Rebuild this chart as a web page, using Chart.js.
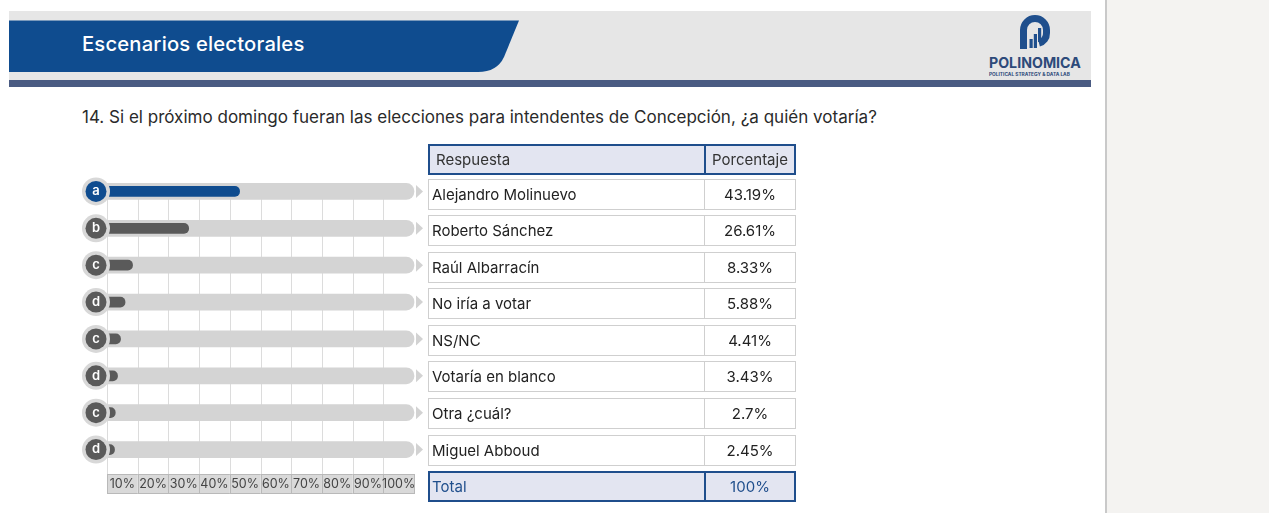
<!DOCTYPE html>
<html>
<head>
<meta charset="utf-8">
<script src="https://cdn.jsdelivr.net/npm/chart.js"></script>
<style>
  body { margin: 0; width: 1269px; height: 513px; background: #fff; position: relative; overflow: hidden; font-family: Inter, "Noto Sans", sans-serif; }
  .band { position: absolute; left: 9px; top: 11px; width: 1082px; height: 69px; background: #e6e6e6; }
  .stripe { position: absolute; left: 9px; top: 80px; width: 1082px; height: 7px; background: #4a5b82; }
  .title { position: absolute; left: 82px; top: 31px; color: #fff; font-size: 20.2px; font-weight: 500; line-height: 26px; letter-spacing: 0.2px; }
  .brand { position: absolute; left: 989px; top: 55px; width: 94px; color: #2d4a7a; font-size: 14.2px; font-weight: 700; line-height: 16px; }
  .brand small { display: block; font-size: 4.8px; line-height: 6px; white-space: nowrap; }
  .side { position: absolute; left: 1105px; top: 0; width: 164px; height: 513px; background: #f4f3f1; border-left: 2px solid #c9c9c9; }
  .question { position: absolute; left: 82px; top: 106px; font-size: 17.05px; color: #2a2a2a; line-height: 22px; }
  #wrap { position: absolute; left: 60px; top: 140px; width: 380px; height: 370px; }
  #table { position: absolute; left: 428px; top: 144px; width: 368px; }
  .row { display: flex; height: 31px; box-sizing: border-box; border: 1px solid #cfcfcf; margin-bottom: 5.6px; font-size: 15px; color: #222; background: #fff; }
  .row div { display: flex; align-items: center; box-sizing: border-box; }
  .row .c1 { width: 276px; padding-left: 3px; border-right: 1px solid #cfcfcf; }
  .row .c2 { flex: 1; justify-content: center; }
  .row.head, .row.total { background: #e3e5f1; border: 2px solid #1f4e8c; }
  .row.head .c1, .row.total .c1 { border-right: 2px solid #1f4e8c; padding-left: 6px; }
  .row.head { color: #333; margin-bottom: 3.5px; }
  .row.total { color: #1f4e8c; margin-top: 1.5px; }
  .row.total .c1 { padding-left: 2px; }
</style>
</head>
<body>
<div class="band"></div>
<svg style="position:absolute;left:0;top:0" width="1100" height="90">
  <path d="M9,20.5 H519 L504,57 Q497,72 478,72 H9 Z" fill="#0f4c8f"/>
  <path d="M1023.5,49 V30 A11.5,11.5 0 0 1 1046.5,30 V33 A10,10 0 0 1 1039,43" fill="none" stroke="#1f4f8d" stroke-width="7"/>
  <rect x="1029.5" y="39" width="3.2" height="9" fill="#1f4f8d"/>
  <rect x="1033.8" y="34" width="3.2" height="14" fill="#1f4f8d"/>
  <rect x="1038" y="28" width="3.2" height="14" fill="#1f4f8d"/>
</svg>
<div class="stripe"></div>
<div class="title">Escenarios electorales</div>
<div class="brand">POLINOMICA<small>POLITICAL STRATEGY &amp; DATA LAB</small></div>
<div class="side"></div>
<div class="question">14. Si el próximo domingo fueran las elecciones para intendentes de Concepción, ¿a quién votaría?</div>
<div id="wrap"><canvas id="chart" width="380" height="370"></canvas></div>
<div id="table"></div>
<script>
const answers = ['Alejandro Molinuevo', 'Roberto Sánchez', 'Raúl Albarracín', 'No iría a votar', 'NS/NC', 'Votaría en blanco', 'Otra ¿cuál?', 'Miguel Abboud'];
const percents = [43.19, 26.61, 8.33, 5.88, 4.41, 3.43, 2.7, 2.45];
const letters = ['a', 'b', 'c', 'd', 'c', 'd', 'c', 'd'];
const tickLabels = ['10%', '20%', '30%', '40%', '50%', '60%', '70%', '80%', '90%', '100%'];
const headers = ['Respuesta', 'Porcentaje'];
const totalLabel = ['Total', '100%'];

const BLUE = '#0f4c8f';
const DARK = '#5a5a5a';
const startOffset = -3.6; // bars start under the letter bubble

// table
let html = '<div class="row head"><div class="c1">' + headers[0] + '</div><div class="c2">' + headers[1] + '</div></div>';
answers.forEach((a, i) => {
  html += '<div class="row"><div class="c1">' + a + '</div><div class="c2">' + percents[i] + '%</div></div>';
});
html += '<div class="row total"><div class="c1">' + totalLabel[0] + '</div><div class="c2">' + totalLabel[1] + '</div></div>';
document.getElementById('table').innerHTML = html;

const decor = {
  id: 'decor',
  beforeDatasetsDraw(chart) {
    const ctx = chart.ctx, xs = chart.scales.x, area = chart.chartArea;
    const first = chart.getDatasetMeta(0).data[0];
    ctx.save();
    ctx.strokeStyle = '#dcdcdc';
    ctx.lineWidth = 1;
    for (let t = 0; t < 100; t += 10) {
      const x = Math.round(xs.getPixelForValue(t)) + 0.5;
      ctx.beginPath();
      ctx.moveTo(x, first.y);
      ctx.lineTo(x, area.bottom + 6);
      ctx.stroke();
    }
    ctx.restore();
  },
  afterDatasetsDraw(chart) {
    const ctx = chart.ctx, xs = chart.scales.x, area = chart.chartArea;
    const x0 = xs.getPixelForValue(0);
    const x100 = xs.getPixelForValue(100);
    ctx.save();
    chart.getDatasetMeta(0).data.forEach((el, i) => {
      const cx = x0 - 11, cy = el.y;
      // arrow
      ctx.fillStyle = '#d2d2d2';
      ctx.beginPath();
      ctx.moveTo(x100 + 2, cy - 6.5);
      ctx.lineTo(x100 + 9, cy);
      ctx.lineTo(x100 + 2, cy + 6.5);
      ctx.closePath();
      ctx.fill();
      // bubble
      ctx.fillStyle = '#d8d8d8';
      ctx.beginPath(); ctx.arc(cx, cy, 14, 0, Math.PI * 2); ctx.fill();
      ctx.fillStyle = i === 0 ? BLUE : DARK;
      ctx.beginPath(); ctx.arc(cx, cy, 10.5, 0, Math.PI * 2); ctx.fill();
      ctx.fillStyle = '#fff';
      ctx.font = '600 13px Inter';
      ctx.textAlign = 'center';
      ctx.textBaseline = 'middle';
      ctx.fillText(letters[i], cx, cy);
    });
    // axis label cells
    const top = area.bottom + 6, h = 20;
    ctx.font = '12.5px Inter';
    tickLabels.forEach((lab, i) => {
      const a = xs.getPixelForValue(i * 10), b = xs.getPixelForValue((i + 1) * 10);
      ctx.fillStyle = '#d9d9d9';
      ctx.fillRect(a, top, b - a, h);
      ctx.strokeStyle = '#b9b9b9';
      ctx.lineWidth = 1;
      ctx.strokeRect(Math.round(a) + 0.5, top + 0.5, Math.round(b) - Math.round(a), h - 1);
      ctx.fillStyle = '#444';
      ctx.fillText(lab, (a + b) / 2, top + h / 2 + 0.5);
    });
    ctx.restore();
  }
};

new Chart(document.getElementById('chart'), {
  type: 'bar',
  data: {
    labels: answers,
    datasets: [
      {
        data: percents.map(v => [startOffset, v]),
        backgroundColor: percents.map((v, i) => i === 0 ? BLUE : DARK),
        barThickness: 10,
        borderRadius: 5,
        borderSkipped: false,
        grouped: false,
        clip: false,
        order: 1
      },
      {
        data: percents.map(() => [startOffset, 100]),
        backgroundColor: '#d4d4d4',
        barThickness: 16,
        borderRadius: 8,
        borderSkipped: false,
        grouped: false,
        clip: false,
        order: 2
      }
    ]
  },
  options: {
    indexAxis: 'y',
    responsive: false,
    animation: false,
    layout: { padding: { left: 47, right: 26, top: 33, bottom: 42 } },
    scales: {
      x: { display: false, min: 0, max: 100 },
      y: { display: false }
    },
    plugins: { legend: { display: false }, tooltip: { enabled: false } }
  },
  plugins: [decor]
});
</script>
</body>
</html>
